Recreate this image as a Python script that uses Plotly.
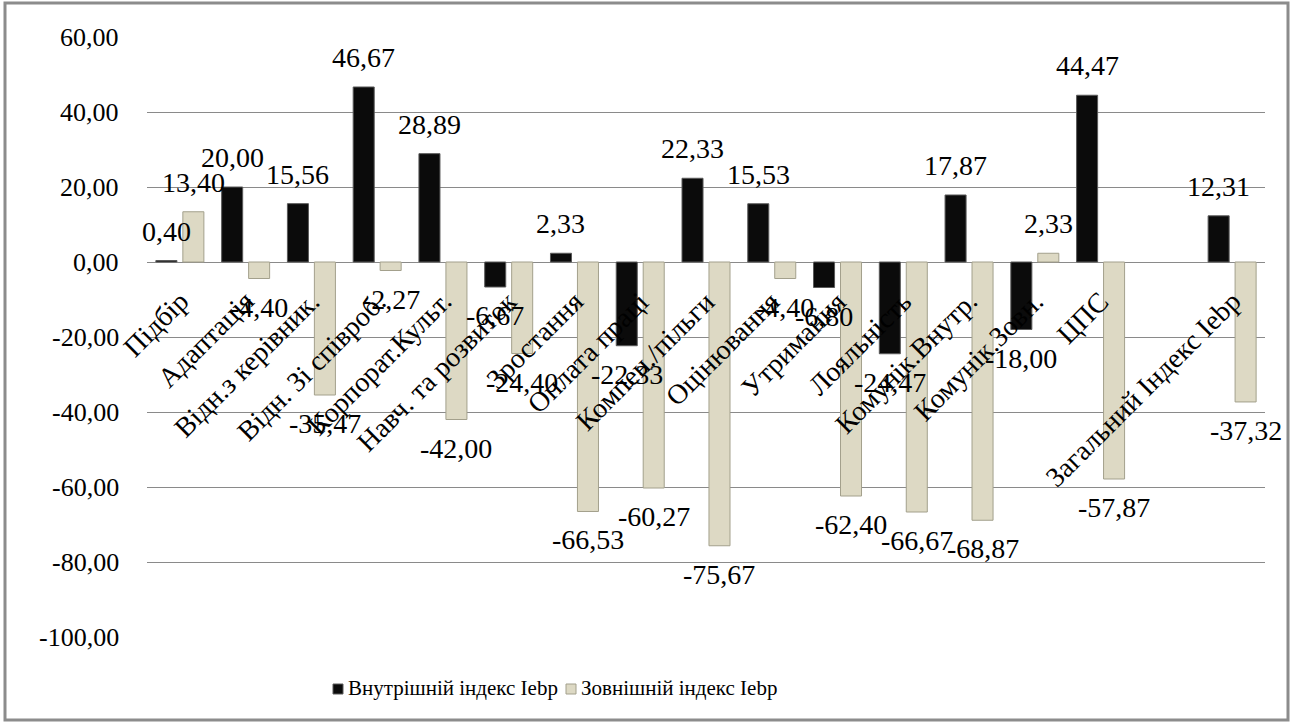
import plotly.graph_objects as go

# Index components (one empty slot before the overall index)
categories = [
    "Підбір", "Адаптація", "Відн.з керівник.", "Відн. Зі співроб.",
    "Корпорат.Культ.", "Навч. та розвиток", "Зростання", "Оплата праці",
    "Компен./пільги", "Оцінювання", "Утримання", "Лояльність",
    "Комунік.Внутр.", "Комунік.Зовн.", "ЦПС", "", "Загальний Індекс Iebp",
]
internal_index = [0.40, 20.00, 15.56, 46.67, 28.89, -6.67, 2.33, -22.33,
                  22.33, 15.53, -6.80, -24.47, 17.87, -18.00, 44.47, None, 12.31]
external_index = [13.40, -4.40, -35.47, -2.27, -42.00, -24.40, -66.53, -60.27,
                  -75.67, -4.40, -62.40, -66.67, -68.87, 2.33, -57.87, None, -37.32]
series_names = ["Внутрішній індекс Iebp", "Зовнішній індекс Iebp"]
y_ticks = [60, 40, 20, 0, -20, -40, -60, -80, -100]

FONT = "Liberation Serif"
W, H = 1294, 725
L, R, T, B = 147, 29, 37, 88
BARGAP = 0.18

pw, ph = W - L - R, H - T - B


def fmt(v):
    return "" if v is None else f"{v:.2f}".replace(".", ",")


def px_x(p):
    return (p - L) / pw


def px_y(p):
    return (H - B - p) / ph


x = list(range(len(categories)))
series = [
    (internal_index, series_names[0], "#0b0b0b", "#5a5a5a"),
    (external_index, series_names[1], "#ddd9c4", "#a3a08c"),
]

fig = go.Figure()
for vals, name, fill, edge in series:
    fig.add_trace(go.Bar(
        x=x, y=vals, name=name, showlegend=False,
        marker=dict(color=fill, line=dict(color=edge, width=1)),
    ))

# Value labels at the outer end of each bar
slot = (1 - BARGAP) / 2
for k, (vals, _, _, _) in enumerate(series):
    dx = (k - 0.5) * slot
    for i, v in enumerate(vals):
        if v is None:
            continue
        fig.add_annotation(
            x=i + dx, y=v, xref="x", yref="y", text=fmt(v), showarrow=False,
            xanchor="center", yanchor="bottom" if v >= 0 else "top",
            yshift=12 if v >= 0 else -11,
            font=dict(family=FONT, size=28, color="#000"),
        )

# Rotated category labels hanging from the zero line
for i, name in enumerate(categories):
    if not name:
        continue
    fig.add_annotation(
        x=i, y=0, xref="x", yref="y", text=name, showarrow=False,
        textangle=-45, xanchor="right", yanchor="top",
        xshift=17, yshift=-21,
        font=dict(family=FONT, size=28, color="#000"),
    )

# Y tick labels with decimal comma
for v in y_ticks:
    fig.add_annotation(
        x=0, y=v, xref="paper", yref="y", text=fmt(v), showarrow=False,
        xanchor="right", yanchor="middle", xshift=-26,
        font=dict(family=FONT, size=26, color="#000"),
    )

# Legend below the plot
legend_items = [(series_names[0], "#0b0b0b", "#5a5a5a", 333),
                (series_names[1], "#ddd9c4", "#a3a08c", 566)]
for name, fill, edge, left in legend_items:
    fig.add_shape(
        type="rect", xref="paper", yref="paper",
        x0=px_x(left), x1=px_x(left + 10), y0=px_y(694), y1=px_y(684),
        fillcolor=fill, line=dict(color=edge, width=1),
    )
    fig.add_annotation(
        x=px_x(left + 13), y=px_y(688), xref="paper", yref="paper",
        text=name, showarrow=False, xanchor="left", yanchor="middle",
        font=dict(family=FONT, size=21, color="#000"),
    )

# Outer frame around the whole chart
fig.add_shape(
    type="rect", xref="paper", yref="paper",
    x0=px_x(5), x1=px_x(1288), y0=px_y(720), y1=px_y(3),
    line=dict(color="#8c8c8c", width=3), fillcolor="rgba(0,0,0,0)", layer="below",
)

fig.update_layout(
    template="none",
    width=W, height=H,
    margin=dict(l=L, r=R, t=T, b=B, pad=0),
    paper_bgcolor="white", plot_bgcolor="white",
    barmode="group", bargap=BARGAP, bargroupgap=0.22,
    font=dict(family=FONT, size=26, color="#000"),
    showlegend=False,
    xaxis=dict(
        range=[-0.5, len(categories) - 0.5], showticklabels=False,
        showgrid=False, zeroline=False, ticks="",
    ),
    yaxis=dict(
        range=[-100, 60], tickvals=y_ticks, showticklabels=False,
        showgrid=True, gridcolor="#8a8a8a", gridwidth=1,
        zeroline=True, zerolinecolor="#8a8a8a", zerolinewidth=1,
        ticks="", showline=False,
    ),
)

fig.write_html("out.html")
